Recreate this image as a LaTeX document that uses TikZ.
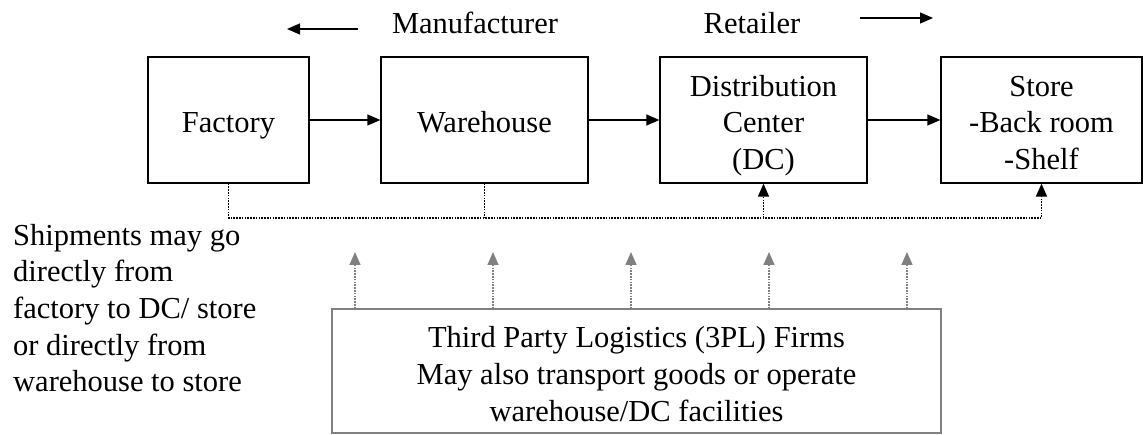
\documentclass[tikz,border=0pt]{standalone}
\usepackage{fontspec}
\setmainfont{Liberation Serif}
\usetikzlibrary{arrows.meta}
\definecolor{midgray}{RGB}{128,128,128}
\tikzset{
  tip/.style={-{Triangle[length=13pt,width=11pt]}},
  stage/.style={draw=black, line width=1.3pt, minimum height=126pt, inner sep=0pt},
  stagetext/.style={inner sep=0pt, align=center, anchor=base},
  flow/.style={line width=1.3pt, tip},
  dotline/.style={line width=1.5pt, dash pattern=on 1.6pt off 1.2pt},
  dotarrow/.style={dotline, tip},
  grayarrow/.style={draw=midgray, line width=1.5pt, dash pattern=on 1.6pt off 1.2pt, tip},
  label/.style={inner sep=0pt, align=center},
}
\begin{document}
\begin{tikzpicture}[x=1pt, y=-1pt, font=\fontsize{30.5}{36.7}\selectfont]
\useasboundingbox (0,0) rectangle (1144,435);

% supply chain stages (frames); the text sits on a common baseline,
% multi-line blocks are anchored at the baseline of their last line
\node[stage, minimum width=161pt] (fac) at (228.5,120) {};
\node[stage, minimum width=207pt] (wh)  at (484.5,120) {};
\node[stage, minimum width=207pt] (dc)  at (763.5,120) {};
\node[stage, minimum width=201pt] (st)  at (1041.5,120) {};

\node[stagetext] (facT) at (228.5,133) {Factory};
\node[stagetext] (whT)  at (484.5,133) {Warehouse};
\node[stagetext] (dcT)  at (763.5,169.7) {Distribution\\Center\\(DC)};
\node[stagetext] (stT)  at (1041.5,169.7) {Store\\-Back room\\-Shelf};

\draw[flow] (fac.east) -- (wh.west);
\draw[flow] (wh.east) -- (dc.west);
\draw[flow] (dc.east) -- (st.west);

% direct shipment routes
\coordinate (bus) at (0,218);
\draw[dotarrow] (fac.south) -- (fac.south |- bus) -| (st.south);
\draw[dotline] (wh.south) -- (wh.south |- bus);
\draw[dotarrow] (dc.south |- bus) -- (dc.south);

% headings
\node[label] (man) at (475,23) {Manufacturer};
\node[label] (ret) at (752,23) {Retailer};
\coordinate (lA) at (358,29);
\coordinate (lB) at (287,29);
\coordinate (rA) at (860,18);
\coordinate (rB) at (933,18);
\draw[flow] (lA) -- (lB);
\draw[flow] (rA) -- (rB);

% side note
\node[label, align=left, anchor=west] (note) at (13,308)
  {Shipments may go\\directly from\\factory to DC/ store\\or directly from\\warehouse to store};

% third party logistics
\node[draw=midgray, line width=1.3pt, minimum width=609pt, minimum height=124pt, inner sep=0pt]
  (tpl) at (636.5,371) {};
\node[label] (tplT) at (636.5,374) {Third Party Logistics (3PL) Firms\\May also transport goods or operate\\warehouse/DC facilities};

\foreach \i/\gx in {1/355,2/493,3/631,4/769,5/907}{
  \coordinate (g\i) at (\gx,252);
  \draw[grayarrow] (tpl.north -| g\i) -- (g\i);
}
\end{tikzpicture}
\end{document}
